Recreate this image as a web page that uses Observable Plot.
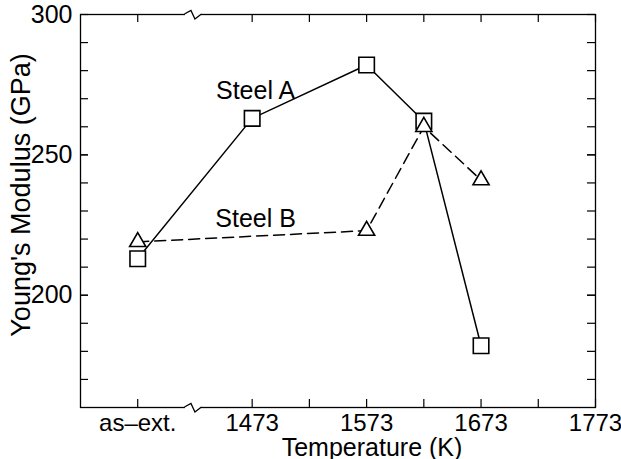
<!DOCTYPE html>
<html><head><meta charset="utf-8">
<script src="https://cdn.jsdelivr.net/npm/d3@7"></script>
<script src="https://cdn.jsdelivr.net/npm/@observablehq/plot@0.6"></script>
<style>html,body{margin:0;padding:0;background:#fff;}</style>
</head><body><div id="chart"></div>
<script>
// Categories on the (broken) temperature axis
const categories = ["as-ext.", "1473", "1573", "1623", "1673"];
const axisPosition = [1373, 1473, 1573, 1623, 1673]; // "as-ext." drawn left of the axis break
const steelA = [213, 263, 282, 262, 182];
const steelB = [219, null, 223, 260, 241];
const xTicks = [1373, 1473, 1523, 1573, 1623, 1673, 1723, 1773];
const xTickLabels = {1373: "as–ext.", 1473: "1473", 1573: "1573", 1673: "1673", 1773: "1773"};
const yTicks = [170, 180, 190, 200, 210, 220, 230, 240, 250, 260, 270, 280, 290];
const yTickLabels = [200, 250, 300];
const breakAt = 1423;
const seriesLabels = [{name: "Steel A", x: 1476, y: 272.8}, {name: "Steel B", x: 1476, y: 227.1}];

const rows = (vals, name) => categories.map((c, i) => ({cat: c, t: axisPosition[i], v: vals[i], series: name})).filter(d => d.v != null);
const dataA = rows(steelA, "Steel A");
const dataB = rows(steelB, "Steel B");

const W = 621, H = 459, mL = 80, mR = 26, mT = 14, mB = 52;
const innerW = W - mL - mR, innerH = H - mT - mB;
const tickLen = 8;

function axisBreak(pos) {
  return (index, scales, values, dimensions) => {
    const x = scales.x(pos);
    const g = d3.create("svg:g");
    for (const y of [dimensions.marginTop, dimensions.height - dimensions.marginBottom]) {
      g.append("line").attr("x1", x - 9.5).attr("x2", x + 6.5).attr("y1", y).attr("y2", y)
        .attr("stroke", "white").attr("stroke-width", 4);
      g.append("path").attr("d", `M${x - 10},${y}L${x - 3.5},${y - 3.5}L${x + 0.5},${y + 5}L${x + 7},${y}`)
        .attr("fill", "none").attr("stroke", "black").attr("stroke-width", 1.3);
    }
    return g.node();
  };
}

const chart = Plot.plot({
  width: W, height: H,
  marginLeft: mL, marginRight: mR, marginTop: mT, marginBottom: mB,
  style: {fontFamily: "'Liberation Sans', Arial, sans-serif", fontSize: "25px", background: "white", color: "black"},
  x: {domain: [1323, 1773]},
  y: {domain: [160, 300]},
  marks: [
    Plot.frame({stroke: "black", strokeWidth: 1.3}),
    Plot.ruleX(xTicks, {stroke: "black", strokeWidth: 1.2, insetTop: innerH - tickLen}),
    Plot.ruleX(xTicks, {stroke: "black", strokeWidth: 1.2, insetBottom: innerH - tickLen}),
    Plot.ruleY(yTicks.concat(yTickLabels), {stroke: "black", strokeWidth: 1.2, insetRight: innerW - tickLen}),
    Plot.ruleY(yTicks.concat(yTickLabels), {stroke: "black", strokeWidth: 1.2, insetLeft: innerW - tickLen}),
    axisBreak(breakAt),
    Plot.axisX({ticks: Object.keys(xTickLabels).map(Number), tickSize: 0, tickPadding: 6, tickFormat: d => xTickLabels[d], label: null, fill: "black", fontSize: 24}),
    Plot.axisY({ticks: yTickLabels, tickSize: 0, tickPadding: 8, label: null, fill: "black", fontSize: 25}),
    Plot.text(["Temperature (K)"], {frameAnchor: "bottom", dx: 34, dy: 48, lineAnchor: "bottom", textAnchor: "middle", fill: "black"}),
    Plot.text(["Young's Modulus (GPa)"], {frameAnchor: "left", dx: -51, dy: -16, rotate: -90, lineAnchor: "bottom", textAnchor: "middle", fill: "black", fontSize: 27}),
    Plot.line(dataB, {x: "t", y: "v", stroke: "black", strokeWidth: 1.5, strokeDasharray: "11,6"}),
    Plot.line(dataA, {x: "t", y: "v", stroke: "black", strokeWidth: 1.5}),
    Plot.dot(dataA, {x: "t", y: "v", symbol: "square", r: 8.75, stroke: "black", strokeWidth: 1.6, fill: "white"}),
    Plot.dot(dataB, {x: "t", y: "v", symbol: "triangle", r: 6, stroke: "black", strokeWidth: 1.6, fill: "white"}),
    Plot.text(seriesLabels, {x: "x", y: "y", text: "name", textAnchor: "middle", fill: "black"})
  ]
});
document.getElementById("chart").appendChild(chart);
</script>
</body></html>
